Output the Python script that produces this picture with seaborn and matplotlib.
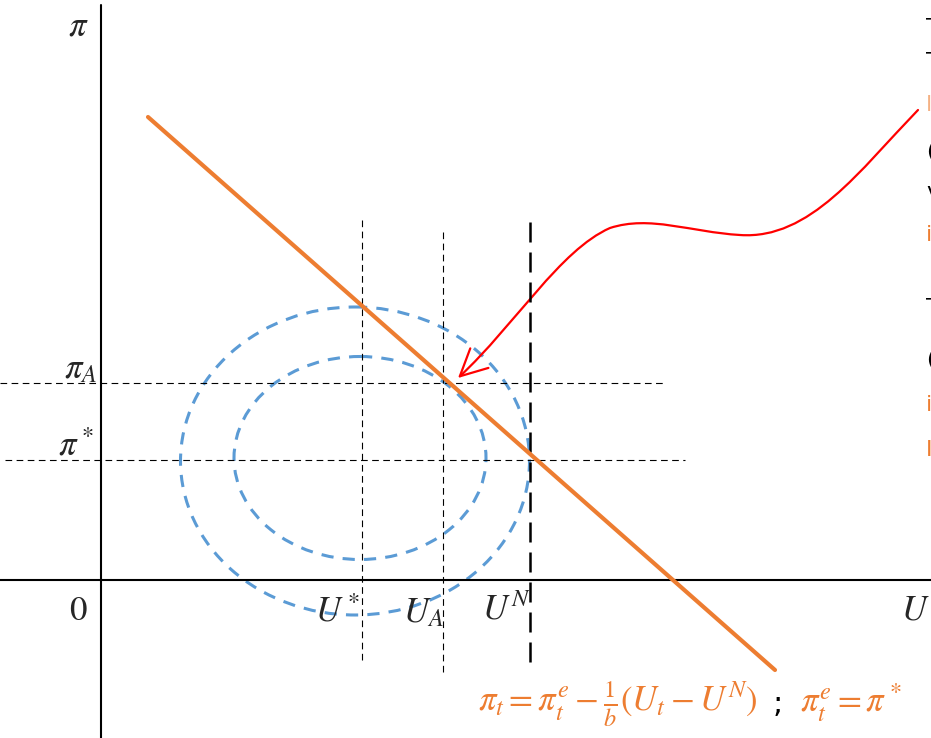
import numpy as np
import pandas as pd
import seaborn as sns
import matplotlib.pyplot as plt
from matplotlib.patches import Ellipse, FancyArrowPatch
from matplotlib.path import Path

# scheme drawn in picture units (x to the right, y downwards), origin of the axes at (101, 580)
origin = (101, 580)
pc_x = [148, 775]          # Phillips curve end points
pc_y = [117, 670]
pi_levels = {"pi_A": 383, "pi_star": 460}
pi_ends = {"pi_A": (0, 665), "pi_star": (5, 685)}
u_levels = {"U_star": 362, "U_A": 443, "U_N": 530}
u_ends = {"U_star": (220, 662), "U_A": (232, 672), "U_N": (222, 662)}
outer_ell = (355, 461, 349, 308)   # cx, cy, width, height
inner_ell = (360, 458, 252, 203)
red_ctrl_x = [918, 860, 810, 740, 690, 650, 610, 560, 515, 458]
red_ctrl_y = [110, 170, 240, 235, 232, 215, 228, 250, 325, 378]

ORANGE = "#ED7D31"
BLUE = "#5B9BD5"

sns.set_style("white")
plt.rcParams["mathtext.fontset"] = "stix"

fig = plt.figure(figsize=(9.31, 7.38), dpi=100)
ax = fig.add_axes([0, 0, 1, 1])
ax.set_xlim(0, 931)
ax.set_ylim(738, 0)

# axes
ax.plot([origin[0], origin[0]], [5, 738], color="black", lw=1.5)
ax.plot([0, 931], [origin[1], origin[1]], color="black", lw=1.5)

# guide lines
for k, yv in pi_levels.items():
    x0, x1 = pi_ends[k]
    ax.plot([x0, x1], [yv, yv], color="black", lw=0.8, dashes=(6, 4))
for k, xv in u_levels.items():
    y0, y1 = u_ends[k]
    if k == "U_N":
        ax.plot([xv, xv], [y0, y1], color="black", lw=1.8, dashes=(8, 4))
    else:
        ax.plot([xv, xv], [y0, y1], color="black", lw=0.8, dashes=(6, 4))

# indifference ellipses
for cx, cy, w, h in (outer_ell, inner_ell):
    ax.add_patch(Ellipse((cx, cy), w, h, fill=False, edgecolor=BLUE,
                         lw=2.2, ls=(0, (4, 3))))

# Phillips curve
pc = pd.DataFrame({"x": pc_x, "y": pc_y})
sns.lineplot(data=pc, x="x", y="y", color=ORANGE, lw=3, ax=ax, sort=False)
ax.axis("off")

# red arrow
verts = list(zip(red_ctrl_x, red_ctrl_y))
codes = [Path.MOVETO] + [Path.CURVE4] * 9
ax.add_patch(FancyArrowPatch(path=Path(verts, codes), arrowstyle="->,head_length=12,head_width=6",
                             color="red", lw=1.6, mutation_scale=1.6))

# labels
fs = 25
ax.text(78, 25, r"$\pi$", fontsize=fs, ha="center", va="center")
ax.text(97, 378, r"$\pi_A$", fontsize=fs, ha="right", va="baseline")
ax.text(94, 455, r"$\pi^*$", fontsize=fs, ha="right", va="baseline")
ax.text(78, 610, r"$0$", fontsize=fs, ha="center", va="center")
ax.text(337, 622, r"$U^*$", fontsize=fs, ha="center", va="baseline")
ax.text(423, 622, r"$U_A$", fontsize=fs, ha="center", va="baseline")
ax.text(506, 620, r"$U^N$", fontsize=fs, ha="center", va="baseline")
ax.text(915, 620, r"$U$", fontsize=fs, ha="center", va="baseline")

ax.text(478, 712, r"$\pi_t = \pi_t^e - \frac{1}{b}(U_t - U^N)$", fontsize=25,
        color=ORANGE, ha="left", va="baseline")
ax.text(773, 712, ";", fontsize=22, color="black", ha="left", va="baseline")
ax.text(800, 712, r"$\pi_t^e = \pi^*$", fontsize=25, color=ORANGE, ha="left", va="baseline")

# text of the slide beside the chart, cut off at the right edge
edge = [(28, "T", "black"), (62, "T", "black"), (105, "l", "#F4B183"), (152, "(", "black"),
        (192, "v", "black"), (235, "i", ORANGE), (308, "T", "black"), (360, "(", "black"),
        (405, "i", ORANGE), (450, "I", ORANGE)]
for yv, ch, c in edge:
    ax.text(926, yv, ch, fontsize=16, color=c, ha="left", va="center")

fig.savefig("out.png", dpi=100, facecolor="white")
